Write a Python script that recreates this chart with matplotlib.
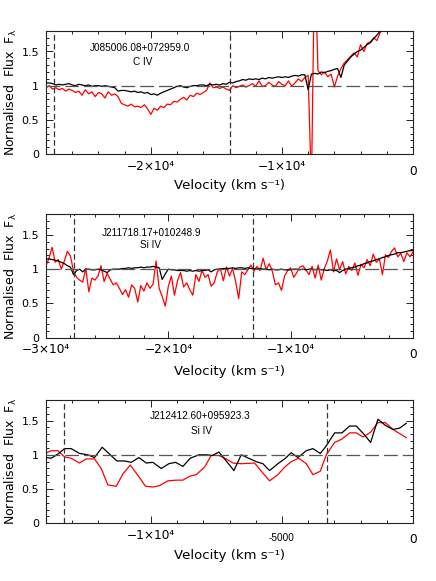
import numpy as np
import matplotlib
matplotlib.use('Agg')
import matplotlib.pyplot as plt
from matplotlib.transforms import ScaledTranslation
from matplotlib.ticker import MultipleLocator, FixedLocator, FixedFormatter

# ---------------- Panel 1: J085006.08+072959.0, C IV ----------------
p1_name = "J085006.08+072959.0"
p1_ion = "C IV"
p1_v0, p1_dv = -28000, 250
p1_black = [1.04, 1.04, 1.03, 1.01, 1.02, 1.01, 1.02, 1.03, 1.01, 1.00, 1.02, 1.01,
            1.00, 1.01, 0.99, 1.00, 1.00, 0.99, 1.00, 0.99, 0.98, 0.97, 0.92, 0.93,
            0.93, 0.92, 0.91, 0.92, 0.90, 0.91, 0.89, 0.90, 0.87, 0.88, 0.86, 0.89,
            0.91, 0.93, 0.95, 0.97, 0.99, 1.00, 0.98, 0.97, 0.99, 1.00, 1.00, 1.01,
            1.01, 1.00, 1.02, 1.01, 1.02, 1.01, 1.03, 1.02, 1.05, 1.04, 1.06, 1.07,
            1.09, 1.08, 1.10, 1.09, 1.10, 1.09, 1.11, 1.10, 1.12, 1.11, 1.12, 1.13,
            1.12, 1.13, 1.12, 1.14, 1.15, 1.14, 1.16, 1.16, 0.94, 1.17, 1.18, 1.17,
            1.20, 1.19, 1.21, 1.22, 1.24, 1.25, 1.12, 1.30, 1.36, 1.42, 1.46, 1.50,
            1.52, 1.56, 1.60, 1.63, 1.69, 1.74, 1.80, 1.86]
p1_red = [0.97, 1.00, 0.95, 0.97, 0.94, 0.96, 0.92, 0.95, 0.93, 0.90, 0.92, 0.86,
          0.94, 0.88, 0.91, 0.84, 0.90, 0.88, 0.82, 0.91, 0.86, 0.88, 0.84, 0.74,
          0.72, 0.70, 0.73, 0.69, 0.70, 0.68, 0.72, 0.66, 0.58, 0.67, 0.64, 0.70,
          0.68, 0.73, 0.72, 0.77, 0.76, 0.80, 0.83, 0.79, 0.86, 0.84, 0.89, 0.87,
          0.90, 0.93, 1.04, 0.97, 0.98, 0.96, 0.98, 0.95, 0.93, 1.00, 0.97, 0.99,
          1.01, 0.98, 1.00, 1.03, 0.99, 1.07, 0.99, 1.00, 1.05, 1.01, 0.99, 1.06,
          1.02, 1.00, 1.07, 0.99, 1.04, 1.10, 1.06, 1.12, 1.15, -0.5, 3.0, 1.22,
          1.16, 1.20, 1.13, 1.17, 0.98, 1.14, 1.25, 1.33, 1.38, 1.43, 1.48, 1.42,
          1.60, 1.50, 1.62, 1.64, 1.70, 1.66, 1.78, 1.84]
p1_vlines = [-27400, -14000]
p1_xlim = (-28000, 0)
p1_major = [-20000, -10000, 0]
p1_labels = ["\u22122\u00d710\u2074", "\u22121\u00d710\u2074", "0"]

# ---------------- Panel 2: J211718.17+010248.9, Si IV ----------------
p2_name = "J211718.17+010248.9"
p2_ion = "Si IV"
p2_v0, p2_dv = -30000, 250
p2_black = [1.15, 1.15, 1.14, 1.13, 1.12, 1.10, 1.08, 1.05, 1.03, 0.92, 0.98, 1.00,
            0.96, 1.00, 1.00, 0.99, 0.99, 1.00, 0.99, 0.97, 0.95, 0.99, 1.00, 1.00,
            1.00, 1.01, 1.01, 1.02, 1.01, 1.02, 1.02, 1.03, 1.02, 1.03, 1.03, 1.04,
            1.03, 1.02, 0.85, 0.93, 1.00, 0.99, 0.99, 0.98, 0.98, 0.98, 0.97, 0.98,
            0.97, 0.98, 0.97, 0.98, 0.98, 0.99, 0.96, 0.99, 1.00, 1.00, 1.01, 1.01,
            1.01, 1.02, 1.01, 1.02, 1.02, 1.01, 1.02, 1.01, 1.01, 1.00, 1.01, 1.00,
            1.00, 0.99, 1.00, 0.99, 0.99, 1.00, 0.99, 0.99, 0.99, 1.00, 1.00, 0.99,
            1.00, 0.99, 1.00, 1.00, 0.99, 1.00, 0.99, 0.99, 0.98, 0.99, 0.98, 0.98,
            0.95, 0.98, 1.00, 1.01, 1.02, 1.03, 1.05, 1.06, 1.08, 1.09, 1.11, 1.12,
            1.14, 1.15, 1.17, 1.18, 1.20, 1.21, 1.22, 1.24, 1.24, 1.25, 1.26, 1.27,
            1.27]
p2_red = [1.05, 1.16, 1.32, 1.10, 1.14, 1.00, 1.12, 1.26, 1.19, 0.97, 0.88, 0.84,
          0.81, 1.01, 0.67, 0.87, 0.84, 0.90, 1.05, 0.82, 0.94, 0.85, 0.77, 0.80,
          0.72, 0.63, 0.70, 0.59, 0.77, 0.72, 0.52, 0.76, 0.68, 0.80, 0.72, 0.78,
          1.12, 0.72, 0.60, 0.46, 0.75, 0.90, 0.62, 0.83, 0.95, 0.74, 0.80, 0.70,
          0.62, 0.92, 0.82, 0.98, 0.88, 0.92, 0.75, 0.80, 0.96, 1.01, 0.83, 1.03,
          0.90, 1.01, 0.82, 0.57, 0.96, 0.92, 0.99, 1.06, 0.97, 1.04, 0.98, 1.16,
          0.99, 1.08, 0.97, 0.77, 0.80, 0.69, 0.90, 0.98, 1.02, 0.88, 0.95, 1.03,
          1.05, 0.99, 0.92, 1.04, 0.87, 1.06, 0.84, 1.01, 1.12, 1.28, 0.96, 1.15,
          0.99, 1.11, 0.93, 1.04, 0.98, 1.09, 0.91, 1.07, 1.02, 1.14, 1.05, 1.22,
          1.10, 1.15, 0.92, 1.21, 1.17, 1.26, 1.31, 1.18, 1.23, 1.11, 1.24, 1.18,
          1.25]
p2_vlines = [-27750, -13100]
p2_xlim = (-30000, 0)
p2_major = [-30000, -20000, -10000, 0]
p2_labels = ["\u22123\u00d710\u2074", "\u22122\u00d710\u2074", "\u22121\u00d710\u2074", "0"]

# ---------------- Panel 3: J212412.60+095923.3, Si IV ----------------
p3_name = "J212412.60+095923.3"
p3_ion = "Si IV"
p3_black_v = [-14019, -13802, -13548, -13293, -13039, -12721, -12403, -12149, -11856,
              -11576, -11296, -11004, -10749, -10457, -10177, -9923, -9605, -9312,
              -9058, -8778, -8498, -8167, -7887, -7658, -7404, -7124, -6832, -6552,
              -6272, -5979, -5725, -5471, -5153, -4898, -4644, -4389, -4071, -3817,
              -3537, -3308, -2990, -2710, -2418, -2163, -1871, -1616, -1337, -1057,
              -764, -510, -255]
p3_black = [0.96, 0.95, 1.01, 1.09, 1.09, 1.02, 1.00, 0.96, 1.11, 1.01, 0.91, 0.91,
            0.89, 0.96, 0.88, 0.89, 0.80, 0.87, 0.89, 0.83, 0.95, 1.00, 1.00, 0.99,
            1.04, 0.91, 0.77, 1.00, 0.95, 0.90, 0.87, 0.77, 0.87, 0.94, 1.03, 0.96,
            1.06, 1.09, 1.02, 1.13, 1.32, 1.32, 1.42, 1.42, 1.30, 1.18, 1.52, 1.43,
            1.37, 1.39, 1.46]
p3_red_v = [-14019, -13802, -13548, -13293, -13039, -12721, -12466, -12149, -11894,
            -11640, -11322, -11067, -10788, -10495, -10202, -9923, -9668, -9350,
            -9032, -8778, -8498, -8269, -7951, -7697, -7404, -7124, -6870, -6552,
            -6043, -5763, -5471, -5153, -4898, -4644, -4364, -4071, -3817, -3537,
            -3308, -2990, -2710, -2418, -2163, -1909, -1616, -1337, -1057, -764,
            -510, -255]
p3_red = [1.02, 1.06, 1.06, 0.97, 0.95, 0.88, 0.94, 0.94, 0.80, 0.56, 0.54, 0.72,
          0.85, 0.70, 0.54, 0.53, 0.55, 0.62, 0.63, 0.63, 0.69, 0.71, 0.82, 0.99,
          0.99, 0.94, 0.88, 0.87, 0.88, 0.75, 0.62, 0.71, 0.82, 0.90, 0.95, 0.87,
          0.71, 0.76, 1.00, 1.18, 1.23, 1.32, 1.32, 1.26, 1.33, 1.47, 1.47, 1.37,
          1.31, 1.25]
p3_vlines = [-13300, -3270]
p3_xlim = (-14000, 0)
p3_major = [-10000, -5000, 0]
p3_labels = ["\u22121\u00d710\u2074", "-5000", "0"]

# ---------------- Figure ----------------
W, H = 436, 581
fig = plt.figure(figsize=(W / 100, H / 100), dpi=100)
fig.patch.set_facecolor('white')

ax_left = 46 / W
ax_w = 367 / W
rects = [(31, 154), (214.3, 337.7), (400, 523.3)]

ylab = "Normalised  Flux  F$_{\\mathregular{\\lambda}}$"
xlab = "Velocity (km s\u207b\u00b9)"
spine_col = '#222222'


def make_panel(ax, vb, b, vr, r, vlines, xlim, major, labels, minor_step,
               name, ion, name_xy, ion_xy, zero_shift, small_label=None):
    ax.plot(vb, b, color='black', lw=0.9, zorder=3)
    ax.plot(vr, r, color='#ff0000', lw=0.9, zorder=2)
    ax.axhline(1.0, color='#555555', lw=0.9, ls=(0, (11, 4)), zorder=4)
    for v in vlines:
        ax.axvline(v, color='#333333', lw=0.9, ls=(0, (4.5, 2.5)), zorder=4)
    ax.set_xlim(*xlim)
    ax.set_ylim(0, 1.8)
    ax.xaxis.set_major_locator(FixedLocator(major))
    ax.xaxis.set_major_formatter(FixedFormatter(labels))
    ax.xaxis.set_minor_locator(MultipleLocator(minor_step))
    ax.yaxis.set_major_locator(FixedLocator([0, 0.5, 1.0, 1.5]))
    ax.yaxis.set_major_formatter(FixedFormatter(["0", "0.5", "1", "1.5"]))
    ax.yaxis.set_minor_locator(MultipleLocator(0.1))
    ax.tick_params(which='both', direction='in', top=True, right=True,
                   color=spine_col, width=0.7)
    ax.tick_params(which='major', length=4.8)
    ax.tick_params(which='minor', length=2.2)
    ax.tick_params(axis='x', which='major', labelsize=8.7, pad=4)
    ax.tick_params(axis='y', which='major', labelsize=8, pad=5)
    for s in ax.spines.values():
        s.set_color(spine_col)
        s.set_linewidth(0.8)
    fig.canvas.draw()
    tl = ax.get_xticklabels()
    for lab in tl:
        txt = lab.get_text()
        if txt == "0":
            lab.set_transform(lab.get_transform() +
                              ScaledTranslation(0, -zero_shift / 100, fig.dpi_scale_trans))
        if small_label is not None and txt == small_label:
            lab.set_fontfamily('Liberation Sans')
            lab.set_fontsize(7.2)
            lab.set_transform(lab.get_transform() +
                              ScaledTranslation(0, -4 / 100, fig.dpi_scale_trans))
    ax.text(name_xy[0], name_xy[1], name, transform=ax.transAxes, ha='center',
            va='center', fontsize=7.2, family='Liberation Sans')
    ax.text(ion_xy[0], ion_xy[1], ion, transform=ax.transAxes, ha='center',
            va='center', fontsize=7.2, family='Liberation Sans')
    ax.text(-(46 - 11) / 367, 0.5, ylab, transform=ax.transAxes, rotation=90,
            ha='center', va='center', fontsize=9)


axes = []
for (top, bot) in rects:
    axes.append(fig.add_axes([ax_left, 1 - bot / H, ax_w, (bot - top) / H]))

p1_vel = p1_v0 + p1_dv * np.arange(len(p1_black))
p2_vel = p2_v0 + p2_dv * np.arange(len(p2_black))

make_panel(axes[0], p1_vel, p1_black, p1_vel, p1_red, p1_vlines, p1_xlim,
           p1_major, p1_labels, 2000, p1_name, p1_ion, (0.256, 0.862), (0.264, 0.748), 5)
make_panel(axes[1], p2_vel, p2_black, p2_vel, p2_red, p2_vlines, p2_xlim,
           p2_major, p2_labels, 2000, p2_name, p2_ion, (0.288, 0.851), (0.285, 0.751), 5)
make_panel(axes[2], p3_black_v, p3_black, p3_red_v, p3_red, p3_vlines, p3_xlim,
           p3_major, p3_labels, 1000, p3_name, p3_ion, (0.42, 0.870), (0.424, 0.751), 4,
           small_label="-5000")

xl_off = [32, 34, 32.4]
for ax, off in zip(axes, xl_off):
    ax.text(0.5, 0, xlab, transform=ax.transAxes +
            ScaledTranslation(0, -off / 100, fig.dpi_scale_trans),
            ha='center', va='center', fontsize=9.5)

fig.savefig('out.png', dpi=100, facecolor='white')
